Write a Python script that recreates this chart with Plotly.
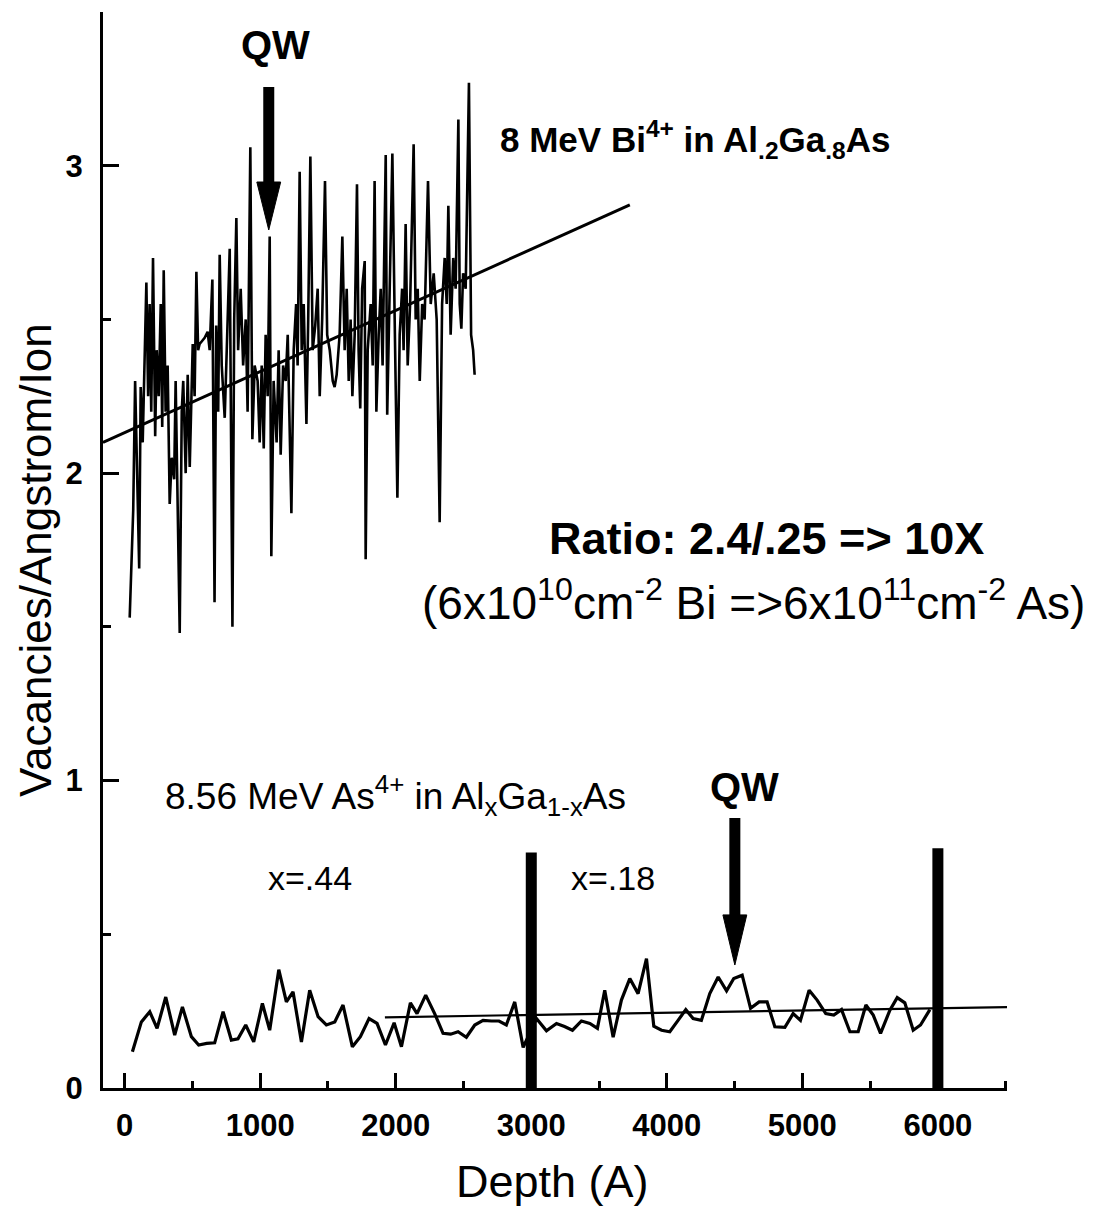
import plotly.graph_objects as go

# ---- data -------------------------------------------------------------
# 8 MeV Bi4+ in Al.2Ga.8As : vacancy profile (depth in Angstrom)
bi_depth = [37, 63, 77, 107, 118, 133, 160, 173, 184, 196, 209, 225, 236, 251, 266, 277,
            288, 302, 317, 332, 347, 365, 376, 406, 421, 432, 450, 465, 480, 502, 516, 529,
            542, 553, 590, 612, 627, 647, 663, 675, 690, 701, 716, 738, 753, 775, 795, 808,
            824, 837, 856, 874, 893, 907, 927, 942, 959, 981, 996, 1011, 1026, 1040, 1055,
            1070, 1082, 1099, 1121, 1136, 1151, 1169, 1188, 1203, 1230, 1247, 1265, 1276,
            1291, 1306, 1321, 1341, 1354, 1370, 1387, 1406, 1424, 1439, 1457, 1478, 1494,
            1513, 1535, 1549, 1564, 1586, 1606, 1623, 1638, 1653, 1667, 1680, 1697, 1714,
            1726, 1738, 1752, 1771, 1778, 1793, 1815, 1830, 1844, 1857, 1874, 1889, 1903,
            1926, 1937, 1951, 1975, 1992, 2012, 2029, 2047, 2058, 2073, 2088, 2106, 2132,
            2147, 2162, 2177, 2195, 2213, 2238, 2258, 2280, 2302, 2324, 2342, 2361, 2376,
            2388, 2405, 2424, 2442, 2462, 2472, 2484, 2497, 2516, 2540, 2556, 2571, 2582]
bi_vac = [1.53, 1.88, 2.30, 1.69, 2.28, 2.10, 2.62, 2.25, 2.55, 2.20, 2.70, 2.12, 2.40, 2.25,
          2.55, 2.15, 2.66, 2.20, 2.35, 1.90, 2.05, 1.98, 2.30, 1.48, 2.20, 2.30, 2.00, 2.32,
          2.02, 2.42, 2.25, 2.655, 2.40, 2.42, 2.44, 2.46, 2.40, 2.63, 1.58, 2.48, 2.20, 2.71,
          2.35, 2.18, 2.40, 2.73, 1.50, 2.50, 2.83, 2.40, 2.60, 2.35, 2.50, 2.20, 3.06, 2.11,
          2.35, 2.30, 2.10, 2.35, 2.08, 2.45, 2.25, 2.77, 1.73, 2.30, 2.10, 2.40, 2.06, 2.35,
          2.30, 2.45, 1.87, 2.40, 2.55, 2.35, 2.98, 2.40, 2.55, 2.16, 2.50, 3.03, 2.40, 2.48,
          2.60, 2.25, 2.50, 2.95, 2.45, 2.40, 2.30, 2.28, 2.32, 2.45, 2.77, 2.40, 2.60, 2.30,
          2.50, 2.25, 2.45, 2.94, 2.40, 2.21, 2.60, 2.69, 1.72, 2.40, 2.55, 2.35, 2.95, 2.20,
          2.45, 2.60, 2.35, 3.035, 2.19, 2.55, 3.04, 2.50, 1.92, 2.45, 2.60, 2.40, 2.81, 2.35,
          2.55, 3.07, 2.50, 2.60, 2.30, 2.55, 2.50, 2.95, 2.55, 2.65, 2.50, 1.84, 2.55, 2.70,
          2.55, 2.87, 2.45, 2.70, 2.60, 3.15, 2.55, 2.47, 2.65, 2.60, 3.27, 2.45, 2.40, 2.32]

# 8.56 MeV As4+ in AlxGa1-xAs : vacancy profile
as_depth = [57, 123, 185, 239, 303, 369, 426, 492, 546, 605, 664, 726, 787, 836, 893, 952,
            1016, 1070, 1137, 1193, 1242, 1304, 1365, 1427, 1488, 1550, 1611, 1680, 1739,
            1803, 1862, 1924, 1988, 2042, 2108, 2157, 2221, 2287, 2349, 2405, 2460, 2521,
            2583, 2644, 2706, 2762, 2816, 2878, 2940, 3038, 3112, 3186, 3245, 3304, 3370,
            3432, 3488, 3542, 3604, 3665, 3727, 3788, 3850, 3904, 3961, 4022, 4083, 4140,
            4194, 4255, 4317, 4379, 4441, 4494, 4556, 4618, 4681, 4740, 4797, 4871, 4932,
            4986, 5050, 5109, 5173, 5232, 5289, 5351, 5412, 5469, 5523, 5577, 5646, 5700,
            5756, 5818, 5872, 5941]
as_vac = [0.118, 0.215, 0.248, 0.194, 0.296, 0.172, 0.264, 0.167, 0.140, 0.145, 0.147, 0.248,
          0.156, 0.160, 0.205, 0.150, 0.275, 0.188, 0.385, 0.280, 0.313, 0.150, 0.318, 0.232,
          0.205, 0.215, 0.270, 0.134, 0.167, 0.226, 0.210, 0.140, 0.212, 0.134, 0.277, 0.242,
          0.302, 0.242, 0.178, 0.175, 0.183, 0.165, 0.205, 0.220, 0.218, 0.218, 0.205, 0.280,
          0.132, 0.226, 0.186, 0.210, 0.200, 0.188, 0.218, 0.210, 0.194, 0.318, 0.165, 0.286,
          0.356, 0.307, 0.421, 0.201, 0.188, 0.183, 0.220, 0.255, 0.226, 0.220, 0.307, 0.361,
          0.316, 0.356, 0.367, 0.259, 0.280, 0.280, 0.199, 0.197, 0.242, 0.220, 0.318, 0.286,
          0.242, 0.237, 0.255, 0.183, 0.183, 0.270, 0.237, 0.178, 0.253, 0.294, 0.277, 0.188,
          0.205, 0.255]

# linear fits through each profile
bi_fit_depth = [-160, 3727]
bi_fit_vac = [2.10, 2.873]
as_fit_depth = [1920, 6510]
as_fit_vac = [0.23, 0.263]

# layer boundaries (x=.44 / x=.18) and quantum-well depths
layer_bounds = [3000, 6000]
qw_depth = [1063, 4502]

x_ticks = [0, 1000, 2000, 3000, 4000, 5000, 6000]
x_minor = [500, 1500, 2500, 3500, 4500, 5500, 6500]
y_ticks = [0, 1, 2, 3]
y_minor = [0.5, 1.5, 2.5, 3.5]

# ---- figure -----------------------------------------------------------
FONT = "Liberation Sans, Arial, sans-serif"
BLACK = "black"

fig = go.Figure()
fig.add_trace(go.Scatter(x=bi_depth, y=bi_vac, mode="lines",
                         line=dict(color=BLACK, width=2.6)))
fig.add_trace(go.Scatter(x=bi_fit_depth, y=bi_fit_vac, mode="lines",
                         line=dict(color=BLACK, width=3)))
fig.add_trace(go.Scatter(x=as_depth, y=as_vac, mode="lines",
                         line=dict(color=BLACK, width=3.2)))
fig.add_trace(go.Scatter(x=as_fit_depth, y=as_fit_vac, mode="lines",
                         line=dict(color=BLACK, width=2.2)))

# thick vertical markers at the layer boundaries
bound_top = [0.766, 0.78]
for d, top in zip(layer_bounds, bound_top):
    fig.add_shape(type="line", x0=d, x1=d, y0=0, y1=top,
                  line=dict(color=BLACK, width=11))

# QW arrows: (tail, head base, tip) in vacancy units
arrow_geom = [(3.256, 2.947, 2.791), (0.878, 0.563, 0.400)]
half_head = 88  # depth units
for d, (tail, base, tip) in zip(qw_depth, arrow_geom):
    fig.add_shape(type="line", x0=d, x1=d, y0=tail, y1=base - 0.01,
                  line=dict(color=BLACK, width=11))
    fig.add_shape(type="path",
                  path=f"M {d - half_head},{base} L {d + half_head},{base} L {d},{tip} Z",
                  fillcolor=BLACK, line=dict(color=BLACK, width=1))

ann = []
ann.append(dict(x=1110, y=3.393, text="<b>QW</b>", showarrow=False,
                font=dict(family=FONT, size=40, color=BLACK)))
ann.append(dict(x=4574, y=0.979, text="<b>QW</b>", showarrow=False,
                font=dict(family=FONT, size=40, color=BLACK)))
ann.append(dict(x=2752, y=3.084, xanchor="left",
                text="<b>8 MeV Bi<sup>4+</sup> in Al<sub>.2</sub>Ga<sub>.8</sub>As</b>",
                showarrow=False, font=dict(family=FONT, size=35, color=BLACK)))
ann.append(dict(x=4737, y=1.789, text="<b>Ratio: 2.4/.25 =&gt; 10X</b>", showarrow=False,
                font=dict(family=FONT, size=45, color=BLACK)))
ann.append(dict(x=4641, y=1.5875,
                text="(6x10<sup>10</sup>cm<sup>-2</sup> Bi =&gt;6x10<sup>11</sup>cm<sup>-2</sup> As)",
                showarrow=False, font=dict(family=FONT, size=46, color=BLACK)))
ann.append(dict(x=280, y=0.953, xanchor="left",
                text="8.56 MeV As<sup>4+</sup> in Al<sub>x</sub>Ga<sub>1-x</sub>As",
                showarrow=False, font=dict(family=FONT, size=37, color=BLACK)))
ann.append(dict(x=1365, y=0.683, text="x=.44", showarrow=False,
                font=dict(family=FONT, size=34, color=BLACK)))
ann.append(dict(x=3600, y=0.683, text="x=.18", showarrow=False,
                font=dict(family=FONT, size=34, color=BLACK)))
# axis titles
ann.append(dict(xref="paper", yref="paper", x=0.4967, y=-0.087,
                xanchor="center", yanchor="middle", text="Depth (A)",
                showarrow=False, font=dict(family=FONT, size=45, color=BLACK)))
ann.append(dict(xref="paper", yref="paper", x=-0.0752, y=0.4907,
                xanchor="center", yanchor="middle", textangle=-90,
                text="Vacancies/Angstrom/Ion", showarrow=False,
                font=dict(family=FONT, size=44, color=BLACK)))

axis_common = dict(showline=True, linewidth=3, linecolor=BLACK, ticks="inside",
                   tickwidth=3, tickcolor=BLACK, showgrid=False, zeroline=False,
                   tickfont=dict(family=FONT, size=31, color=BLACK, weight="bold"))

fig.update_layout(
    width=1105, height=1208,
    margin=dict(l=103, r=98, t=12, b=120),
    paper_bgcolor="white", plot_bgcolor="white",
    showlegend=False,
    annotations=ann,
    xaxis=dict(range=[-160, 6510], tickvals=x_ticks, ticklen=15,
               ticklabelstandoff=8,
               minor=dict(tickvals=x_minor, ticks="inside", ticklen=7, tickwidth=3,
                          tickcolor=BLACK),
               **axis_common),
    yaxis=dict(range=[0, 3.5], tickvals=y_ticks, ticklen=16,
               ticklabelstandoff=11,
               minor=dict(tickvals=y_minor, ticks="inside", ticklen=8, tickwidth=3,
                          tickcolor=BLACK),
               **axis_common),
)

fig.write_html("out.html")
